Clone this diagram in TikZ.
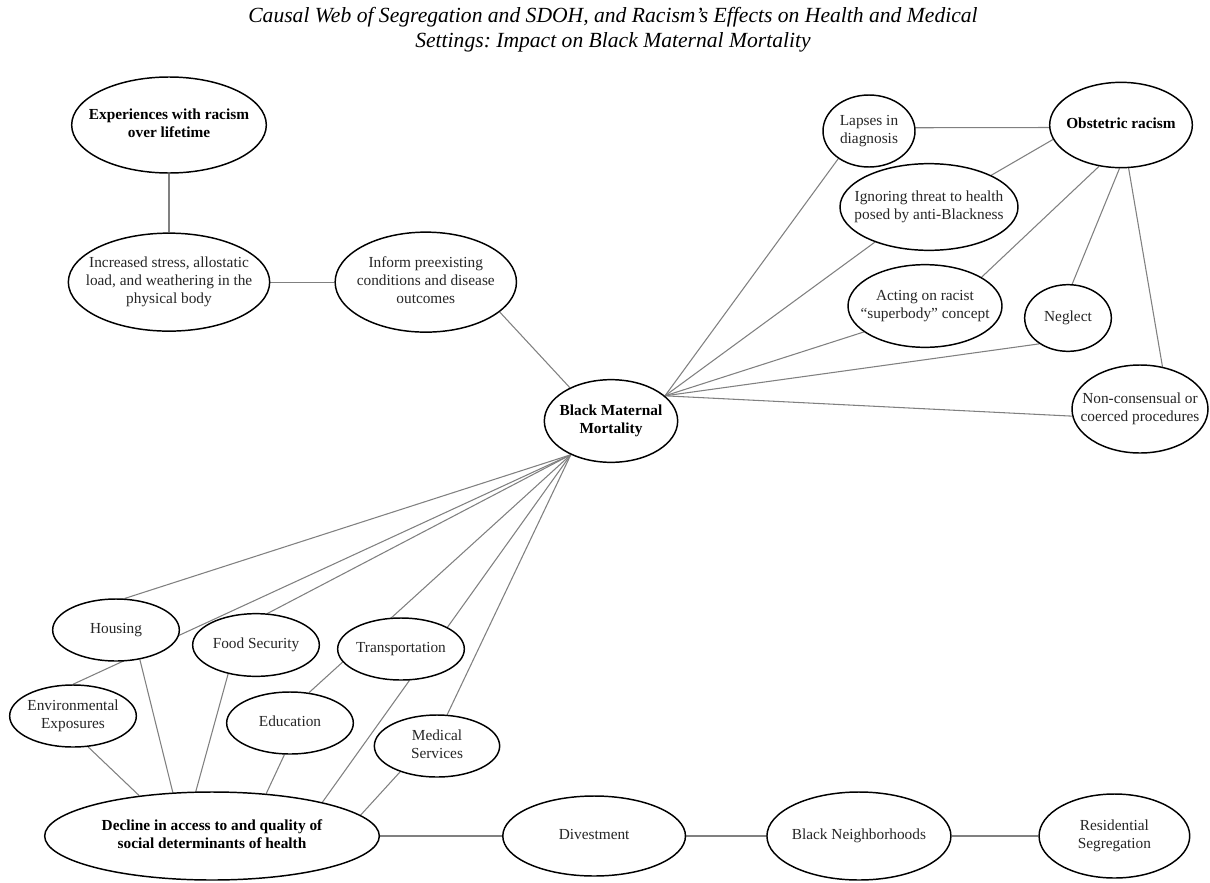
\documentclass[tikz,border=0pt]{standalone}
\usepackage{fontspec}
\setmainfont{Liberation Serif}
\usetikzlibrary{shapes.geometric, positioning, backgrounds}
\frenchspacing

\newcommand{\nodefont}{\fontsize{11.5}{13.5}\selectfont}
\newcommand{\ovaltext}[1]{\makebox[0pt]{\begin{tabular}{@{}c@{}}#1\end{tabular}}}

\begin{document}
\begin{tikzpicture}[
    x=0.75pt, y=-0.75pt,
    oval/.style={ellipse, draw=black, line width=1.1pt, fill=white,
                 inner sep=0pt, font=\nodefont, text=black!85},
    key/.style={oval, font=\nodefont\bfseries, text=black},
    dims/.style 2 args={minimum width=#1, minimum height=#2},
    link/.style={draw=black!50, line width=0.8pt}
  ]
  \useasboundingbox (0,0) rectangle (1210,882);

    % Title
    \node[font=\fontsize{16.2}{18.5}\selectfont\itshape, align=center] (title) at (613,30)
      {Causal Web of Segregation and SDOH, and Racism's Effects on Health and Medical\\
       Settings: Impact on Black Maternal Mortality};

    % Racism over the life course
    \node[key, dims={146pt}{72pt}] (exper) at (169,125)
      {\ovaltext{Experiences with racism\\over lifetime}};
    \node[oval, dims={151pt}{73.5pt}, below=44pt of exper] (stress)
      {\ovaltext{Increased stress, allostatic\\load, and weathering in the\\physical body}};
    \node[oval, dims={136pt}{75pt}, right=48pt of stress] (inform)
      {\ovaltext{Inform preexisting\\conditions and disease\\outcomes}};

    % Outcome
    \node[key, dims={100pt}{62pt}] (bmm) at (611,421)
      {\ovaltext{Black Maternal\\Mortality}};

    % Obstetric racism
    \node[key, dims={107pt}{64pt}] (obst) at (1121,125) {\ovaltext{Obstetric racism}};
    \node[oval, dims={69pt}{54pt}] (lapses) at (869,131)
      {\ovaltext{Lapses in\\diagnosis}};
    \node[oval, dims={133.5pt}{65pt}] (ignore) at (929,207)
      {\ovaltext{Ignoring threat to health\\posed by anti-Blackness}};
    \node[oval, dims={115.5pt}{62pt}] (acting) at (925,306)
      {\ovaltext{Acting on racist\\``superbody'' concept}};
    \node[oval, dims={65pt}{50pt}] (neglect) at (1068,318) {\ovaltext{Neglect}};
    \node[oval, dims={102pt}{66pt}] (noncons) at (1140,409)
      {\ovaltext{Non-consensual or\\coerced procedures}};

    % Social determinants of health
    \node[oval, dims={95pt}{46.5pt}] (housing) at (116,630) {\ovaltext{Housing}};
    \node[oval, dims={95pt}{46.5pt}] (env) at (73,716)
      {\ovaltext{Environmental\\Exposures}};
    \node[oval, dims={95pt}{47pt}] (food) at (256,645) {\ovaltext{Food Security}};
    \node[oval, dims={95pt}{46.5pt}] (transp) at (401,649) {\ovaltext{Transportation}};
    \node[oval, dims={95pt}{46.5pt}] (educ) at (290,723) {\ovaltext{Education}};
    \node[oval, dims={94pt}{46.5pt}] (medical) at (437,746)
      {\ovaltext{Medical\\Services}};
    \node[key, dims={251pt}{66pt}] (decline) at (212,836)
      {\ovaltext{Decline in access to and quality of\\social determinants of health}};

    % Segregation chain
    \node[oval, dims={137pt}{60pt}, right=91.5pt of decline] (divest) {\ovaltext{Divestment}};
    \node[oval, dims={138pt}{66pt}, right=60pt of divest] (neigh)
      {\ovaltext{Black Neighborhoods}};
    \node[oval, dims={113pt}{63pt}, right=65pt of neigh] (resid)
      {\ovaltext{Residential\\Segregation}};

    % Connectors
    \begin{scope}[on background layer]
      \draw[link] (exper) -- (stress);
      \draw[link] (stress) -- (inform);
      \draw[link] (inform.-22) -- (bmm.141);
      \draw[link] (lapses.4) -- (obst.182);
      \draw[link] (obst.192) -- (ignore.27);
      \draw[link] (obst.242) -- (acting.27);
      \draw[link] (obst.268) -- (neglect.83);
      \draw[link] (obst.280) -- (noncons.62);
      \foreach \n/\a in {lapses/222, ignore/213, acting/203, neglect/222, noncons/186}
        \draw[link] (bmm.25) -- (\n.\a);
      \foreach \n/\a in {housing/75, env/90, food/70, educ/58, decline/17.5, medical/72}
        \draw[link] (bmm.220) -- (\n.\a);
      \draw[link] (housing.-51) -- (decline.132);
      \draw[link] (env.-64) -- (decline.151);
      \draw[link] (food.-134) -- (decline.110);
      \draw[link] (educ.-100) -- (decline.38);
      \draw[link] (medical.215) -- (decline.8);
      \draw[link] (decline) -- (divest);
      \draw[link] (divest) -- (neigh);
      \draw[link] (neigh) -- (resid);
    \end{scope}

\end{tikzpicture}
\end{document}
